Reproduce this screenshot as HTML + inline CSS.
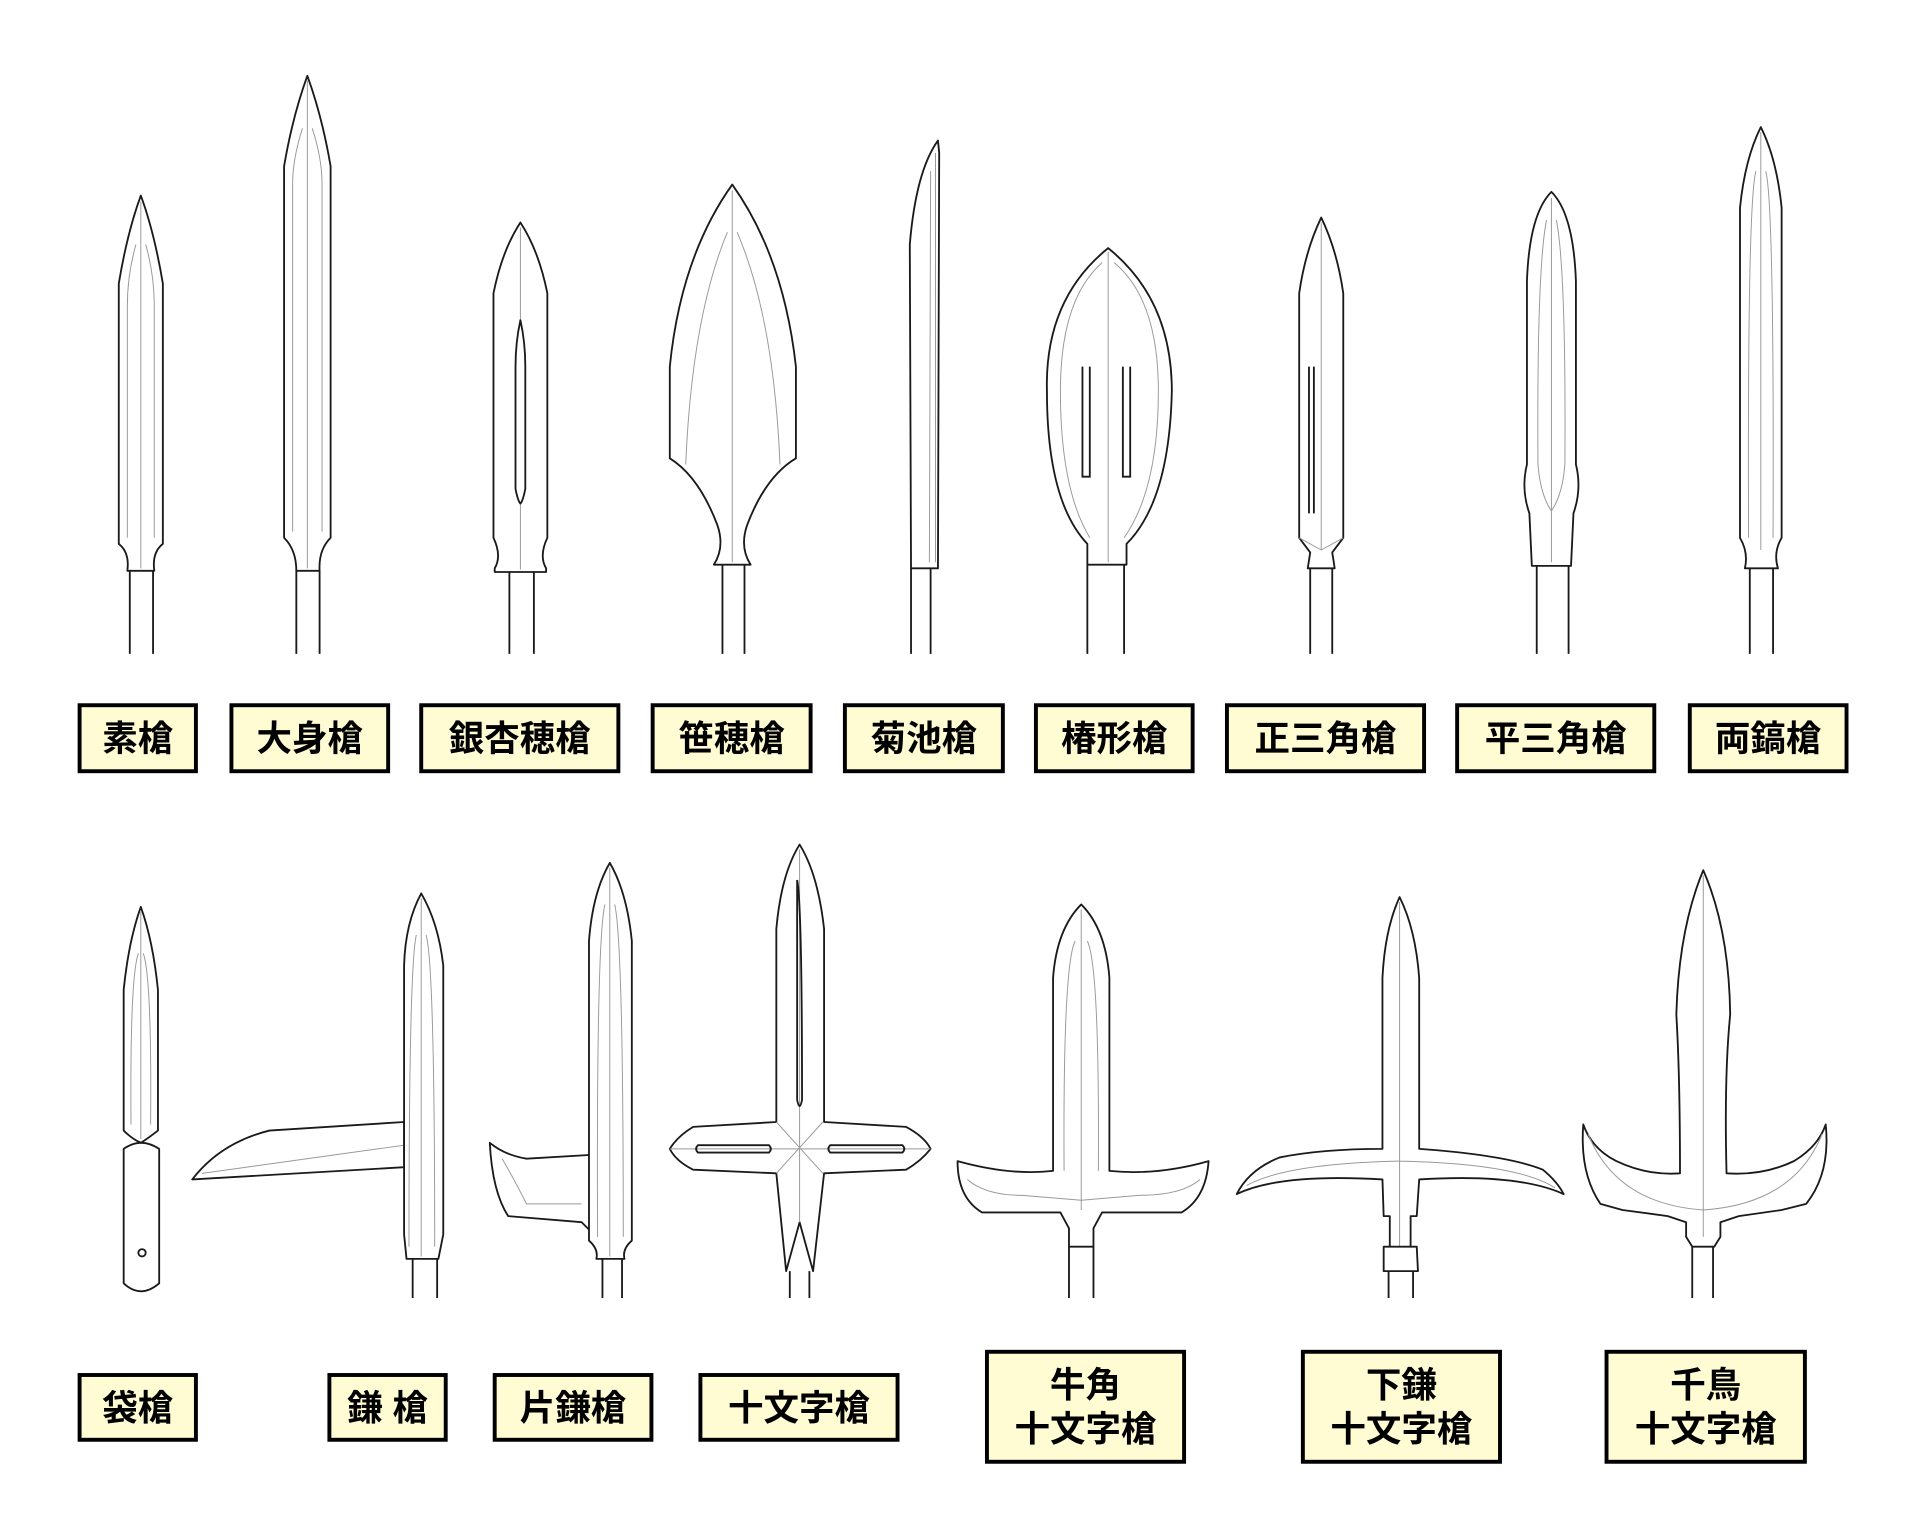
<!DOCTYPE html>
<html><head><meta charset="utf-8"><style>
html,body{margin:0;padding:0;background:#fff;}
svg{display:block;}
.o{fill:#fff;stroke:#1a1a1a;stroke-width:1.5;stroke-linejoin:round;}
.i{fill:none;stroke:#999;stroke-width:0.8;}
.s{fill:none;stroke:#1a1a1a;stroke-width:1.5;}
.b{fill:#fffbd2;stroke:#000;stroke-width:3.2;}
text{font-family:"Liberation Sans","Noto Sans CJK JP",sans-serif;font-size:29px;font-weight:600;fill:#000;text-anchor:middle;}
</style></head><body>
<svg width="1920" height="1540" viewBox="0 0 1568 1260" preserveAspectRatio="none" xmlns="http://www.w3.org/2000/svg">
<g>
<line class="s" x1="106" y1="467" x2="106" y2="535"/><line class="s" x1="125" y1="467" x2="125" y2="535"/>
<path class="o" d="M115,160 Q126,190 133,232 L133,445 Q124,452 126,467 L104,467 Q106,452 97,445 L97,232 Q104,190 115,160Z"/>
<path class="i" d="M115,165 L115,465 M111,200 Q104,225 104,250 L104,440 M119,200 Q126,225 126,250 L126,440"/>

<line class="s" x1="242" y1="467" x2="242" y2="535"/><line class="s" x1="261" y1="467" x2="261" y2="535"/>
<path class="o" d="M251,62 Q263,95 270,136 L270,440 Q260,450 261,467 L242,467 Q242,450 232,440 L232,136 Q239,95 251,62Z"/>
<path class="i" d="M251,66 L251,465 M247,105 Q239,130 239,150 L239,435 M255,105 Q263,130 263,150 L263,435"/>

<line class="s" x1="416" y1="468" x2="416" y2="535"/><line class="s" x1="436" y1="468" x2="436" y2="535"/>
<path class="o" d="M425,182 Q440,205 447,240 L447,440 Q440,455 446,465 L446,468 L404,468 L404,465 Q410,455 403,440 L403,240 Q410,205 425,182Z"/>
<path class="i" d="M425,186 L425,466"/>
<path class="o" d="M425,262 Q429,280 429,300 L429,400 Q427,410 425,412 Q423,410 421,400 L421,300 Q421,280 425,262Z"/>

<line class="s" x1="590" y1="462" x2="590" y2="535"/><line class="s" x1="608" y1="462" x2="608" y2="535"/>
<path class="o" d="M598,151 Q640,210 650,300 L650,375 Q625,390 610,430 Q604,448 613,462 L583,462 Q592,448 586,430 Q571,390 547,375 L547,300 Q556,210 598,151Z"/>
<path class="i" d="M598,156 L598,460 M594,190 Q565,260 560,380 M602,190 Q632,260 637,380"/>

<line class="s" x1="744" y1="465" x2="744" y2="535"/><line class="s" x1="760" y1="465" x2="760" y2="535"/>
<path class="o" d="M766,115 L767,125 L766,465 L744,465 L743,200 Q748,140 766,115Z"/>
<path class="i" d="M760,140 L759,460 M764,125 L764,460"/>

<line class="s" x1="888" y1="462" x2="888" y2="535"/><line class="s" x1="918" y1="462" x2="918" y2="535"/>
<path class="o" d="M905,203 Q957,245 957,320 Q955,410 920,445 L920,462 L888,462 L888,445 Q855,410 855,320 Q853,245 905,203Z"/>
<path class="i" d="M905,206 L905,460 M900,215 Q866,245 866,320 Q866,400 890,440 M910,215 Q946,245 946,320 Q946,400 918,440"/>
<path class="s" d="M884,300 L884,390 L890,390 L890,300 M917,300 L917,390 L923,390 L923,300"/>

<line class="s" x1="1070" y1="465" x2="1070" y2="535"/><line class="s" x1="1088" y1="465" x2="1088" y2="535"/>
<path class="o" d="M1079,178 Q1092,205 1097,240 L1097,440 L1088,452 L1090,465 L1068,465 L1070,452 L1061,440 L1061,240 Q1066,205 1079,178Z"/>
<path class="i" d="M1079,182 L1079,450 M1061,440 L1079,450 L1097,440"/>
<path class="s" d="M1069,300 L1069,420 M1073,300 L1073,420"/>

<line class="s" x1="1255" y1="463" x2="1255" y2="535"/><line class="s" x1="1281" y1="463" x2="1281" y2="535"/>
<path class="o" d="M1267,157 Q1285,175 1287,230 L1287,380 Q1292,400 1285,420 L1283,463 L1251,463 L1249,420 Q1242,400 1247,380 L1247,230 Q1249,175 1267,157Z"/>
<path class="i" d="M1267,162 L1267,460 M1263,180 Q1255,220 1256,380 Q1258,405 1267,418 Q1276,405 1278,380 Q1279,220 1271,180"/>

<line class="s" x1="1429" y1="465" x2="1429" y2="535"/><line class="s" x1="1448" y1="465" x2="1448" y2="535"/>
<path class="o" d="M1438,104 Q1451,130 1455,170 L1455,440 Q1448,452 1452,465 L1425,465 Q1428,452 1421,440 L1421,170 Q1425,130 1438,104Z"/>
<path class="i" d="M1438,108 L1438,450 M1434,140 Q1427,165 1428,440 M1442,140 Q1449,165 1448,440"/>
</g>

<g>
<path class="o" d="M101,940 Q115,930 130,940 L130,1050 Q115,1063 101,1050Z"/>
<circle class="s" cx="116" cy="1025" r="3"/>
<path class="o" d="M115,742 Q125,770 129,810 L129,925 Q120,932 115,935 Q108,932 101,925 L101,810 Q105,770 115,742Z"/>
<path class="i" d="M115,746 L115,932 M113,780 Q106,800 107,920 M117,780 Q124,800 123,920"/>

<line class="s" x1="337" y1="1030" x2="337" y2="1062"/><line class="s" x1="357" y1="1030" x2="357" y2="1062"/>
<path class="o" d="M330,918 L220,925 Q180,935 157,965 L330,955 Z"/>
<path class="i" d="M330,937 L165,960"/>
<path class="o" d="M344,731 Q358,755 362,790 L362,1010 L358,1030 L332,1030 L330,1010 L330,790 Q331,755 344,731Z"/>
<path class="i" d="M344,735 L344,1028 M340,765 Q334,790 334,1020 M348,765 Q355,790 355,1020"/>

<line class="s" x1="492" y1="1030" x2="492" y2="1062"/><line class="s" x1="508" y1="1030" x2="508" y2="1062"/>
<path class="o" d="M481,945 L430,948 Q412,945 400,935 Q402,975 415,995 L475,1000 L487,1012 L490,975 Z"/>
<path class="i" d="M410,948 Q420,965 430,985 L475,985"/>
<path class="o" d="M498,706 Q512,730 516,770 L516,1015 Q508,1022 510,1030 L487,1030 Q489,1022 481,1015 L481,770 Q484,730 498,706Z"/>
<path class="i" d="M498,710 L498,1028 M494,740 Q487,770 488,1012 M502,740 Q509,770 509,1012"/>

<line class="s" x1="645" y1="1040" x2="645" y2="1062"/><line class="s" x1="661" y1="1040" x2="661" y2="1062"/>
<path class="o" d="M653,691 Q668,715 673,760 L673,918 L740,922 Q755,930 760,940 Q752,950 740,957 L673,960 L664,1040 L653,1000 L642,1040 L634,960 L566,957 Q552,950 547,940 Q553,930 566,922 L634,918 L634,760 Q638,715 653,691Z"/>
<path class="i" d="M653,695 L653,1000 M634,918 L672,960 M672,918 L634,960 M547,940 L760,940"/>
<path class="s" d="M651,720 Q655,740 655,900 Q653,910 651,900 Z M570,937 L628,937 Q631,940 628,943 L570,943 Q567,940 570,937 Z M678,937 L737,937 Q740,940 737,943 L678,943 Q675,940 678,937 Z"/>

<line class="s" x1="873" y1="1020" x2="873" y2="1062"/><line class="s" x1="893" y1="1020" x2="893" y2="1062"/>
<path class="o" d="M883,740 Q903,760 906,800 L906,958 Q945,962 987,950 Q985,980 965,992 L900,992 L893,1005 L893,1020 L873,1020 L873,1005 L866,992 L802,992 Q782,980 782,950 Q825,962 860,958 L860,800 Q863,760 883,740Z"/>
<path class="i" d="M883,744 L883,990 M878,770 Q868,790 869,958 M888,770 Q898,790 897,958 M790,965 Q805,978 835,978 L883,982 L930,978 Q965,978 980,965"/>

<line class="s" x1="1134" y1="1040" x2="1134" y2="1062"/><line class="s" x1="1154" y1="1040" x2="1154" y2="1062"/>
<path class="o" d="M1143,734 Q1156,760 1159,800 L1159,940 Q1230,945 1260,957 Q1272,967 1277,977 Q1240,960 1159,965 L1157,995 L1152,995 L1152,1022 L1135,1022 L1135,995 L1130,995 L1129,965 Q1045,960 1010,977 Q1020,957 1045,947 Q1080,940 1129,940 L1129,800 Q1131,760 1143,734Z"/>
<path class="i" d="M1143,738 L1143,1020 M1018,970 Q1050,952 1143,950 Q1240,952 1270,972"/>
<path class="o" d="M1130,1020 L1157,1020 L1158,1040 L1130,1040 Z"/>

<line class="s" x1="1382" y1="1020" x2="1382" y2="1062"/><line class="s" x1="1399" y1="1020" x2="1399" y2="1062"/>
<path class="o" d="M1391,712 Q1412,760 1413,830 Q1408,880 1410,960 Q1440,962 1465,950 Q1485,938 1491,920 Q1495,960 1475,985 L1455,990 L1420,995 L1405,1000 L1405,1012 L1400,1020 L1382,1020 L1377,1012 L1377,1000 L1362,995 L1325,990 L1307,985 Q1290,960 1293,920 Q1300,940 1320,950 Q1345,962 1372,960 Q1372,880 1369,830 Q1371,760 1391,712Z"/>
<path class="i" d="M1391,716 L1391,1012 M1297,928 Q1320,985 1391,990 Q1465,985 1488,928"/>
</g>

<g>
<rect class="b" x="65" y="577" width="95" height="54"/><text x="112.5" y="614">素槍</text>
<rect class="b" x="189" y="577" width="128" height="54"/><text x="253" y="614">大身槍</text>
<rect class="b" x="344" y="577" width="161" height="54"/><text x="424.5" y="614">銀杏穂槍</text>
<rect class="b" x="533" y="577" width="129" height="54"/><text x="597.5" y="614">笹穂槍</text>
<rect class="b" x="690" y="577" width="129" height="54"/><text x="754.5" y="614">菊池槍</text>
<rect class="b" x="846" y="577" width="128" height="54"/><text x="910" y="614">椿形槍</text>
<rect class="b" x="1002" y="577" width="161" height="54"/><text x="1082.5" y="614">正三角槍</text>
<rect class="b" x="1190" y="577" width="161" height="54"/><text x="1270.5" y="614">平三角槍</text>
<rect class="b" x="1380" y="577" width="128" height="54"/><text x="1444" y="614">両鎬槍</text>
</g>
<g>
<rect class="b" x="65" y="1125" width="95" height="53"/><text x="112.5" y="1162">袋槍</text>
<rect class="b" x="269" y="1125" width="95" height="53"/><text x="316.5" y="1162">鎌 槍</text>
<rect class="b" x="404" y="1125" width="128" height="53"/><text x="468" y="1162">片鎌槍</text>
<rect class="b" x="572" y="1125" width="161" height="53"/><text x="652.5" y="1162">十文字槍</text>
<rect class="b" x="806" y="1106" width="161" height="90"/><text x="886.5" y="1143">牛角</text><text x="886.5" y="1179">十文字槍</text>
<rect class="b" x="1064" y="1106" width="161" height="90"/><text x="1144.5" y="1143">下鎌</text><text x="1144.5" y="1179">十文字槍</text>
<rect class="b" x="1312" y="1106" width="162" height="90"/><text x="1393" y="1143">千鳥</text><text x="1393" y="1179">十文字槍</text>
</g>
</svg>
</body></html>
